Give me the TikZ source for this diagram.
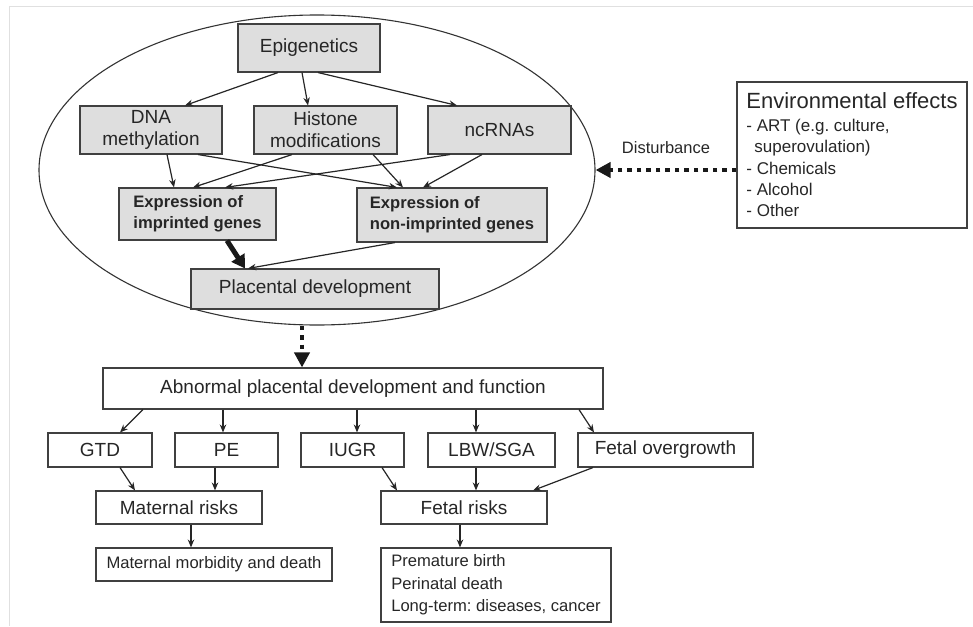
\documentclass[tikz,border=0pt]{standalone}
\usepackage{fontspec}
\setmainfont{Liberation Sans}
\usetikzlibrary{shapes.geometric, arrows.meta, positioning}
\frenchspacing

\begin{document}
\begin{tikzpicture}[
        x=1pt, y=-1pt,
        >={Stealth[length=8pt, width=6.5pt]},
        every node/.style={text=black!85},
        box/.style={
            draw=black!75,
            line width=1.1pt,
            inner sep=0pt,
            minimum height=34pt,
            font=\fontsize{19}{22}\selectfont,
            align=center
        },
        gbox/.style={box, fill=black!13, minimum height=48pt},
        genebox/.style={gbox, font=\fontsize{16.6}{21}\selectfont\bfseries, align=left},
        listbox/.style={box, font=\fontsize{16.6}{22.5}\selectfont, align=left},
        link/.style={->, line width=1.2pt, draw=black!85},
        dotlink/.style={line width=4.5pt, draw=black!90, dash pattern=on 4.5pt off 5pt,
            -{Triangle[length=15pt, width=15pt]}}
    ]
        \useasboundingbox (0,0) rectangle (973,626);
        \draw[black!12, line width=1pt] (973,7) -- (9,7) -- (9,626);

        % epigenetic layer, inside the oval
        \node[ellipse, draw=black!80, line width=1.1pt, minimum width=556pt, minimum height=310pt] (region) at (317,170) {};
        \node[gbox, minimum width=142pt] (epi) at (309,48) {Epigenetics};
        \node[gbox, minimum width=142pt] (dna) at (151,130) {DNA\\methylation};
        \node[gbox, minimum width=143pt] (hist) at (325.5,130) {Histone\\modifications};
        \node[gbox, minimum width=143pt] (ncrna) at (499.5,130) {ncRNAs};
        \node[genebox, minimum width=157pt, minimum height=52pt] (imp) at (197.5,214) {Expression of\\imprinted genes};
        \node[genebox, minimum width=190pt, minimum height=54pt] (nonimp) at (452,215) {Expression of\\non-imprinted genes};
        \node[gbox, minimum width=248pt, minimum height=40pt] (plac) at (315,289) {Placental development};

        % environment
        \node[box, minimum width=230pt, minimum height=146pt, align=left,
              font=\fontsize{17}{21.4}\selectfont] (env) at (852,155)
            {{\fontsize{22}{22}\selectfont Environmental effects}\\[1pt]
             - ART (e.g. culture,\\
             \hspace{8pt}superovulation)\\
             - Chemicals\\
             - Alcohol\\
             - Other};

        % outcomes
        \node[box, minimum width=500pt, minimum height=41pt] (abn) at (353,388.5) {Abnormal placental development and function};
        \node[box, minimum width=104pt] (gtd) at (100,450) {GTD};
        \node[box, minimum width=103pt] (pe) at (226.5,450) {PE};
        \node[box, minimum width=103pt] (iugr) at (352.5,450) {IUGR};
        \node[box, minimum width=127pt] (lbw) at (491.5,450) {LBW/SGA};
        \node[box, minimum width=175pt] (fog) at (665.5,450) {Fetal overgrowth};
        \node[box, minimum width=166pt, minimum height=33pt] (mat) at (179,507.5) {Maternal risks};
        \node[box, minimum width=166pt, minimum height=33pt] (fet) at (464,507.5) {Fetal risks};
        \node[listbox, minimum width=236pt, minimum height=33pt, align=center] (morb) at (214,564.5) {Maternal morbidity and death};
        \node[listbox, minimum width=230pt, minimum height=74pt] (prem) at (496,585)
            {Premature birth\\Perinatal death\\Long-term: diseases, cancer};

        % arrows in the oval
        \draw[link] ([xshift=-31pt]epi.south) -- ([xshift=34pt]dna.north);
        \draw[link] ([xshift=-7pt]epi.south) -- ([xshift=-17.5pt]hist.north);
        \draw[link] ([xshift=9pt]epi.south) -- ([xshift=-42.5pt]ncrna.north);
        \draw[link] ([xshift=16pt]dna.south) -- ([xshift=-23.5pt]imp.north);
        \draw[link] ([xshift=47pt]dna.south) -- ([xshift=-55pt]nonimp.north);
        \draw[link] ([xshift=-33.5pt]hist.south) -- ([xshift=-4.5pt]imp.north);
        \draw[link] ([xshift=47.5pt]hist.south) -- ([xshift=-49pt]nonimp.north);
        \draw[link] ([xshift=-49.5pt]ncrna.south) -- ([xshift=27.5pt]imp.north);
        \draw[link] ([xshift=-17.5pt]ncrna.south) -- ([xshift=-29pt]nonimp.north);
        \draw[line width=5pt, draw=black!90, -{Triangle[length=13pt, width=15pt]}]
            ([xshift=29.5pt]imp.south) -- ([xshift=-70pt]plac.north);
        \draw[link] ([xshift=-57pt]nonimp.south) -- ([xshift=-67pt]plac.north);

        % disturbance and outcome
        \draw[dotlink] (region.east -| env.west) -- node[above=11pt, font=\fontsize{16.5}{18}\selectfont] (dist) {Disturbance} (region.east);
        \draw[dotlink] ([xshift=-15pt]region.south) -- ([xshift=-51pt]abn.north);

        \draw[link] ([xshift=-210pt]abn.south) -- ([xshift=20pt]gtd.north);
        \draw[link] ([xshift=-130pt]abn.south) -- ([xshift=-3.5pt]pe.north);
        \draw[link] ([xshift=4pt]abn.south) -- ([xshift=4.5pt]iugr.north);
        \draw[link] ([xshift=123pt]abn.south) -- ([xshift=-15.5pt]lbw.north);
        \draw[link] ([xshift=226pt]abn.south) -- ([xshift=-71.5pt]fog.north);
        \draw[link] ([xshift=20pt]gtd.south) -- ([xshift=-44pt]mat.north);
        \draw[link] ([xshift=-11.5pt]pe.south) -- ([xshift=36pt]mat.north);
        \draw[link] ([xshift=29.5pt]iugr.south) -- ([xshift=-67pt]fet.north);
        \draw[link] ([xshift=-15.5pt]lbw.south) -- ([xshift=12pt]fet.north);
        \draw[link] ([xshift=-72.5pt]fog.south) -- ([xshift=69pt]fet.north);
        \draw[link] ([xshift=12pt]mat.south) -- ([xshift=-23pt]morb.north);
        \draw[link] ([xshift=-4pt]fet.south) -- ([xshift=-36pt]prem.north);
\end{tikzpicture}
\end{document}
